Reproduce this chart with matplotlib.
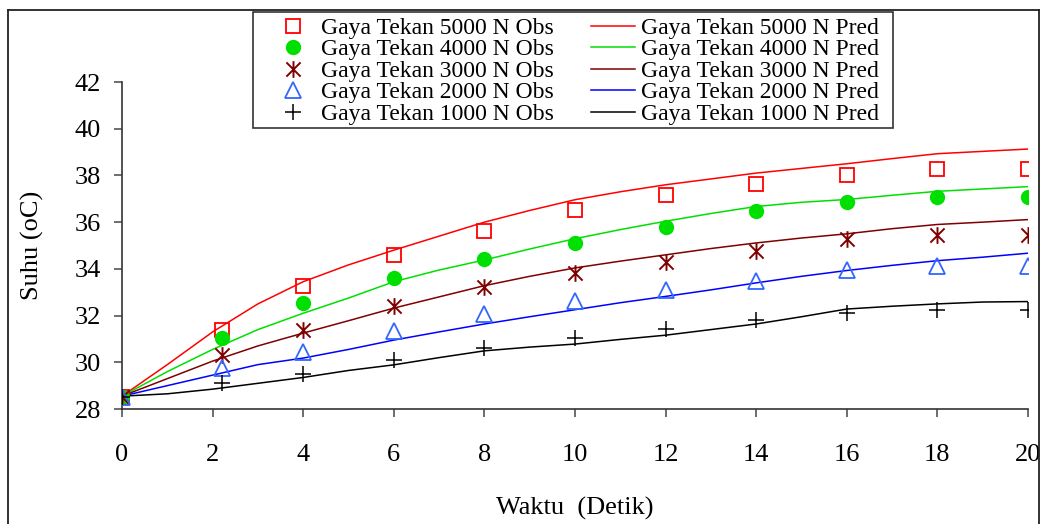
import matplotlib
matplotlib.use("Agg")
import matplotlib.pyplot as plt
from matplotlib.lines import Line2D
from matplotlib.patches import Rectangle
from matplotlib.path import Path

plt.rcParams['font.family'] = ['Liberation Serif', 'DejaVu Serif']

# ---- data ----
obs_x = [0, 2.2, 4, 6, 8, 10, 12, 14, 16, 18, 20]
obs_5000 = [28.5, 31.4, 33.28, 34.6, 35.6, 36.5, 37.15, 37.62, 38.03, 38.29, 38.29]
obs_4000 = [28.5, 31.03, 32.52, 33.61, 34.43, 35.11, 35.81, 36.46, 36.86, 37.07, 37.07]
obs_3000 = [28.5, 30.32, 31.37, 32.42, 33.24, 33.81, 34.31, 34.78, 35.26, 35.47, 35.47]
obs_2000 = [28.5, 29.75, 30.45, 31.35, 32.07, 32.64, 33.1, 33.5, 33.93, 34.14, 34.14]
obs_1000 = [28.5, 29.1, 29.49, 30.09, 30.63, 31.02, 31.42, 31.81, 32.11, 32.24, 32.25]

pred_x = list(range(0, 21))
pred_5000 = [28.55, 29.9, 31.3, 32.5, 33.45, 34.17, 34.8, 35.4, 36.0, 36.5, 36.96,
             37.3, 37.6, 37.85, 38.1, 38.3, 38.5, 38.72, 38.93, 39.03, 39.13]
pred_4000 = [28.55, 29.6, 30.55, 31.4, 32.1, 32.75, 33.45, 33.95, 34.38, 34.85, 35.29,
             35.68, 36.04, 36.37, 36.67, 36.85, 36.97, 37.15, 37.32, 37.42, 37.52]
pred_3000 = [28.55, 29.3, 30.05, 30.7, 31.25, 31.78, 32.32, 32.8, 33.28, 33.68, 34.04,
             34.33, 34.6, 34.87, 35.11, 35.32, 35.5, 35.72, 35.9, 36.0, 36.11]
pred_2000 = [28.55, 29.0, 29.45, 29.9, 30.18, 30.55, 30.95, 31.3, 31.64, 31.95, 32.25,
             32.55, 32.82, 33.1, 33.4, 33.68, 33.93, 34.15, 34.35, 34.5, 34.67]
pred_1000 = [28.55, 28.65, 28.85, 29.1, 29.35, 29.65, 29.89, 30.2, 30.49, 30.65, 30.78,
             30.98, 31.16, 31.4, 31.64, 31.95, 32.28, 32.4, 32.5, 32.58, 32.6]

x_ticks = [0, 2, 4, 6, 8, 10, 12, 14, 16, 18, 20]
y_ticks = [28, 30, 32, 34, 36, 38, 40, 42]
labels = ["5000", "4000", "3000", "2000", "1000"]

W, H = 1045, 524
fig = plt.figure(figsize=(W / 100, H / 100), dpi=100)
ax = fig.add_axes([122 / W, 1 - 409 / H, (1028 - 122) / W, (409 - 82) / H])

# asterisk marker: X plus vertical bar
star = Path([(0, -1), (0, 1), (-0.85, -0.85), (0.85, 0.85), (-0.85, 0.85), (0.85, -0.85)],
            [Path.MOVETO, Path.LINETO, Path.MOVETO, Path.LINETO, Path.MOVETO, Path.LINETO])

obs = [obs_5000, obs_4000, obs_3000, obs_2000, obs_1000]
pred = [pred_5000, pred_4000, pred_3000, pred_2000, pred_1000]
mstyles = [
    dict(marker='s', ms=10.5, mfc='none', mec='#ff0000', mew=1.3),
    dict(marker='o', ms=10, mfc='#00e000', mec='#00e000', mew=1.0),
    dict(marker=star, ms=12, mfc='none', mec='#800000', mew=1.4),
    dict(marker='^', ms=11, mfc='none', mec='#3366ff', mew=1.3),
    dict(marker='+', ms=12, mfc='none', mec='#000000', mew=1.1),
]
lcolors = ['#ff0000', '#00e000', '#800000', '#0000ff', '#000000']

obs_handles = []
pred_handles = []
for lab, o, st in zip(labels, obs, mstyles):
    h, = ax.plot(obs_x, o, ls='none', label=f"Gaya Tekan {lab} N Obs", zorder=3, **st)
    obs_handles.append(h)
for lab, p, c in zip(labels, pred, lcolors):
    h, = ax.plot(pred_x, p, color=c, lw=1.1, label=f"Gaya Tekan {lab} N Pred", zorder=2)
    pred_handles.append(h)

ax.set_xlim(0, 20)
ax.set_ylim(28, 42)
ax.set_xticks(x_ticks)
ax.set_yticks(y_ticks)
ax.spines['top'].set_visible(False)
ax.spines['right'].set_visible(False)
for s in ['left', 'bottom']:
    ax.spines[s].set_color('#333333')
    ax.spines[s].set_linewidth(1.2)
ax.tick_params(axis='both', direction='out', length=6, width=1.2, color='#555555',
               labelsize=19, labelcolor='black')
ax.tick_params(axis='x', pad=19)
ax.tick_params(axis='y', pad=9)

fig.text(575 / W, 1 - 508 / H, "Waktu  (Detik)", ha='center', va='center', fontsize=19)
fig.text(32 / W, 1 - 245 / H, "Suhu (oC)", ha='center', va='center', rotation=90, fontsize=19)

# legend frame
fig.add_artist(Rectangle((253 / W, 1 - 128 / H), (893 - 253) / W, (128 - 12) / H,
                         transform=fig.transFigure, fill=True, facecolor='white',
                         edgecolor='#333333', lw=1.2, zorder=4))
leg = fig.legend(handles=obs_handles + pred_handles, ncol=2, loc='upper left',
                 bbox_to_anchor=(268 / W, 1 - 15 / H), bbox_transform=fig.transFigure,
                 borderaxespad=0, fontsize=17, frameon=False,
                 handlelength=1.9, handletextpad=0.25,
                 columnspacing=1.55, labelspacing=0.0, borderpad=0.1,
                 markerscale=1.0)
leg.set_zorder(5)

# figure border
for xs, ys in [((8 / W, 8 / W), (0, 1 - 10 / H)),
               ((8 / W, 1039 / W), (1 - 10 / H, 1 - 10 / H)),
               ((1039 / W, 1039 / W), (1 - 10 / H, 0))]:
    fig.add_artist(Line2D(xs, ys, transform=fig.transFigure, color='#222222', lw=1.3))

fig.savefig("out.png", dpi=100)
